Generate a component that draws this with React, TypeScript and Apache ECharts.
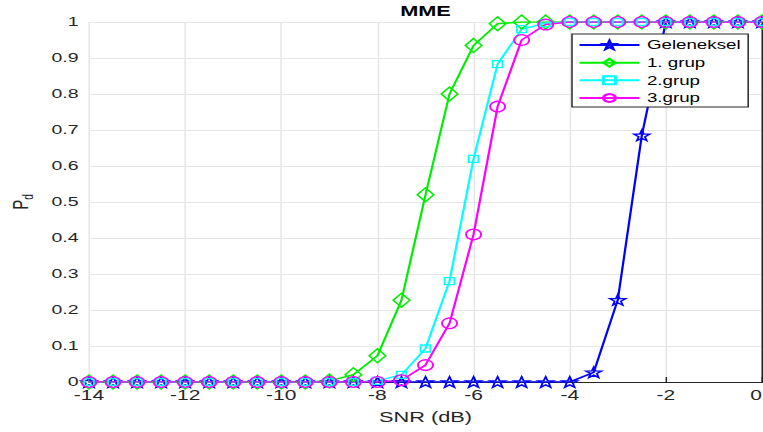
import React, { useEffect, useRef } from "react";
import * as echarts from "echarts";

const snr = [-14, -13.5, -13, -12.5, -12, -11.5, -11, -10.5, -10, -9.5, -9, -8.5, -8, -7.5, -7, -6.5, -6, -5.5, -5, -4.5, -4, -3.5, -3, -2.5, -2, -1.5, -1, -0.5, 0];
const geleneksel = [0, 0, 0, 0, 0, 0, 0, 0, 0, 0, 0, 0, 0, 0, 0, 0, 0, 0, 0, 0, 0, 0.027, 0.228, 0.685, 1, 1, 1, 1, 1];
const grup1 = [0, 0, 0, 0, 0, 0, 0, 0, 0, 0, 0.003, 0.02, 0.073, 0.227, 0.52, 0.8, 0.935, 0.995, 1, 1, 1, 1, 1, 1, 1, 1, 1, 1, 1];
const grup2 = [0, 0, 0, 0, 0, 0, 0, 0, 0, 0, 0, 0, 0.003, 0.02, 0.093, 0.28, 0.62, 0.883, 0.98, 0.997, 1, 1, 1, 1, 1, 1, 1, 1, 1];
const grup3 = [0, 0, 0, 0, 0, 0, 0, 0, 0, 0, 0, 0, 0, 0.005, 0.047, 0.163, 0.41, 0.765, 0.95, 0.993, 1, 1, 1, 1, 1, 1, 1, 1, 1];
const seriesNames = ["Geleneksel", "1. grup", "2.grup", "3.grup"];

const STAR = "path://M0,-10 L2.35,-3.24 L9.51,-3.09 L3.8,1.24 L5.88,8.09 L0,4 L-5.88,8.09 L-3.8,1.24 L-9.51,-3.09 L-2.35,-3.24 Z";
const FONT = "Liberation Sans, Arial, Helvetica, sans-serif";

// The reference is horizontally stretched; render narrower and stretch.
const W = 509;
const H = 432;
const SX = 763 / W;

function pairs(ys: number[]) {
  return snr.map((x, i) => [x, ys[i]]);
}

export default function App() {
  const ref = useRef<HTMLDivElement>(null);
  useEffect(() => {
    const chart = echarts.init(ref.current!, null, { renderer: "svg" });
    const mk = (name: string, ys: number[], color: string, symbol: string, size: number | number[]) => ({
      name,
      type: "line",
      data: pairs(ys),
      symbol,
      symbolSize: size,
      showAllSymbol: true,
      clip: true,
      lineStyle: { color, width: 1.5 },
      itemStyle: { color: "rgba(255,255,255,0)", borderColor: color, borderWidth: 1.3 },
      emphasis: { disabled: true },
      z: 2,
    });
    chart.setOption({
      animation: false,
      backgroundColor: "#ffffff",
      title: {
        text: "MME",
        left: 425.5 / SX,
        textAlign: "center",
        top: 3,
        padding: 0,
        textStyle: { fontFamily: FONT, fontSize: 14.5, fontWeight: "bold", color: "#000" },
      },
      legend: {
        orient: "vertical",
        left: 572 / SX,
        top: 34,
        padding: [3.5, 5, 1.5, 4],
        itemGap: 2.67,
        itemWidth: 40,
        itemHeight: 10,
        backgroundColor: "#fff",
        borderColor: "#262626",
        borderWidth: 1,
        borderRadius: 0,
        data: seriesNames,
        textStyle: { fontFamily: FONT, fontSize: 12.5, lineHeight: 15, color: "#000" },
        z: 10,
      },
      grid: { left: 89 / SX, right: 1 / SX, top: 22, bottom: 50, containLabel: false, outerBoundsMode: "none" },
      xAxis: {
        type: "value",
        min: -14,
        max: 0,
        interval: 2,
        name: "SNR (dB)",
        nameLocation: "middle",
        nameGap: 27.5,
        nameTextStyle: { fontFamily: FONT, fontSize: 14.5, color: "#262626" },
        axisLine: { show: true, onZero: false, lineStyle: { color: "#262626", width: 1 } },
        axisTick: { show: true, inside: true, length: 5, lineStyle: { color: "#262626" } },
        axisLabel: { fontFamily: FONT, fontSize: 14, color: "#262626", margin: 6, alignMaxLabel: "right" },
        splitLine: { show: true, lineStyle: { color: "#e6e6e6", width: 1 } },
      },
      yAxis: {
        type: "value",
        min: 0,
        max: 1,
        interval: 0.1,
        name: "{p|P}{sub|d}",
        nameLocation: "middle",
        nameGap: 34,
        nameRotate: 90,
        nameTextStyle: {
          fontFamily: FONT,
          color: "#262626",
          rich: {
            p: { fontFamily: FONT, fontSize: 15, color: "#262626" },
            sub: { fontFamily: FONT, fontSize: 10, color: "#262626", verticalAlign: "bottom", padding: [10, 0, 0, 0] },
          },
        },
        axisLine: { show: true, lineStyle: { color: "#262626", width: 1 } },
        axisTick: { show: true, inside: true, length: 4, lineStyle: { color: "#262626" } },
        axisLabel: { fontFamily: FONT, fontSize: 13, color: "#262626", margin: 7 },
        splitLine: { show: true, lineStyle: { color: "#e6e6e6", width: 1 } },
      },
      series: [
        mk(seriesNames[0], geleneksel, "#0000ff", STAR, [10.5, 10.5]),
        mk(seriesNames[1], grup1, "#00ee00", "diamond", [11, 14]),
        mk(seriesNames[2], grup2, "#00ffff", "rect", [6.5, 7]),
        mk(seriesNames[3], grup3, "#ff00ff", "circle", [10, 10.5]),
      ],
    });
    return () => chart.dispose();
  }, []);
  return (
    <div
      style={{
        position: "fixed",
        left: 0,
        top: 0,
        width: W,
        height: H,
        transform: `scaleX(${SX})`,
        transformOrigin: "0 0",
      }}
    >
      <div ref={ref} style={{ width: W, height: H }} />
    </div>
  );
}
